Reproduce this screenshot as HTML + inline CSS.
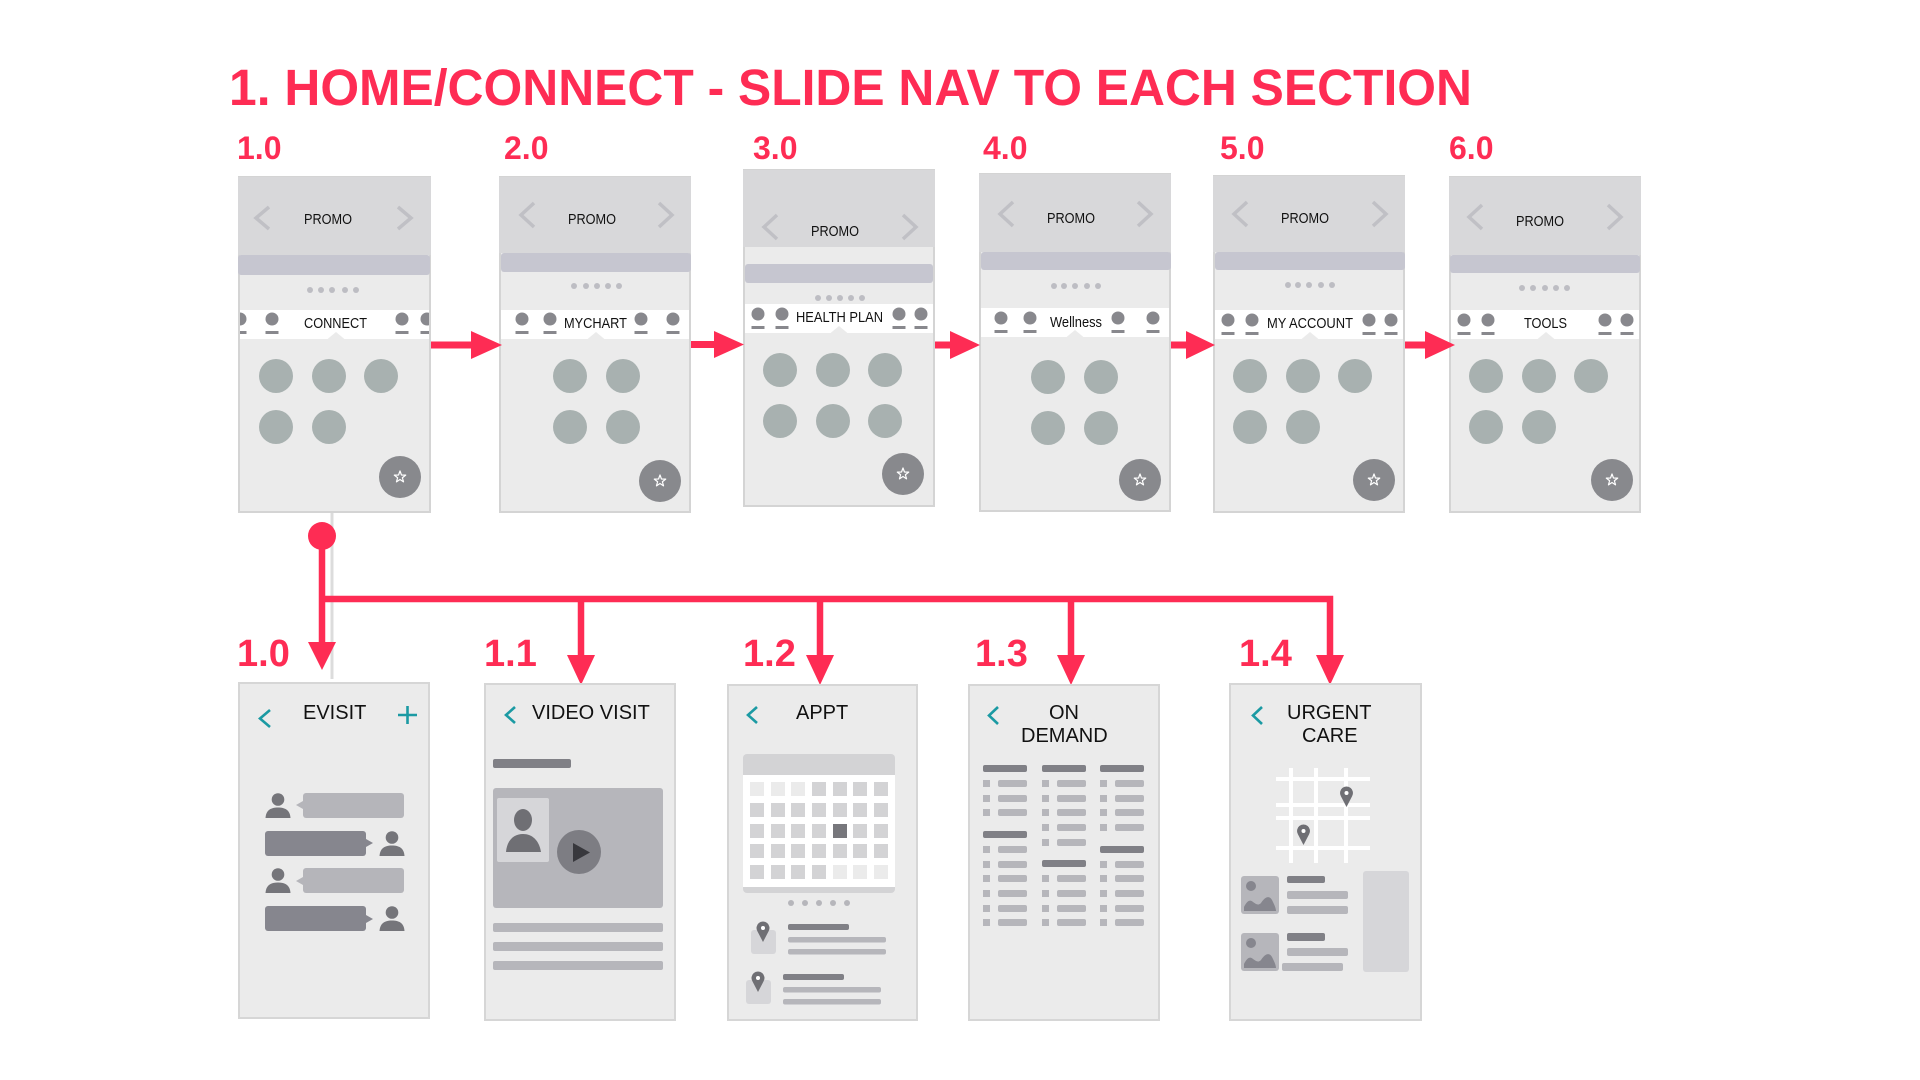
<!DOCTYPE html>
<html><head><meta charset="utf-8"><style>
html,body{margin:0;padding:0;background:#fff;}
svg{display:block;}
text{font-family:"Liberation Sans",Arial,sans-serif;}
</style></head><body>
<svg width="1920" height="1080" viewBox="0 0 1920 1080" xmlns="http://www.w3.org/2000/svg">
<defs>
<path id="star" d="M0,-6 L1.47,-2.02 L5.71,-1.85 L2.38,0.77 L3.53,4.85 L0,2.5 L-3.53,4.85 L-2.38,0.77 L-5.71,-1.85 L-1.47,-2.02 Z" fill="none" stroke="#fff" stroke-width="1.2" stroke-linejoin="round"/>
<g id="person" fill="#75757a"><circle cx="0" cy="6.5" r="6.3"/><path d="M-12.5,25 C-12,17 -7,14.5 0,14.5 C7,14.5 12,17 12.5,25 Z"/></g>
<g id="pin"><path d="M0,20 L-5.6,9.3 A6.5,6.5 0 1 1 5.6,9.3 Z" fill="#6f6f74"/><circle cx="0" cy="6" r="2" fill="#fff"/></g>
<g id="imgbox"><rect x="0" y="0" width="38" height="38" rx="3" fill="#b6b6bb"/><circle cx="10" cy="10" r="5" fill="#86868e"/><path d="M3,35 L3,31 C6,25 9,23 12,26 C15,28 17,30 20,27 C24,21 28,19 31,24 C33,28 35,32 35,35 Z" fill="#86868e"/></g>
<g id="tabicon" fill="#88888d"><circle cx="0" cy="0" r="6.5"/><rect x="-6.5" y="12" width="13" height="3"/></g>
<clipPath id="cl1"><rect x="240" y="300" width="189" height="50"/></clipPath>
<clipPath id="cl2"><rect x="501" y="300" width="188" height="50"/></clipPath>
<clipPath id="cl3"><rect x="745" y="295" width="188" height="50"/></clipPath>
<clipPath id="cl4"><rect x="981" y="300" width="188" height="50"/></clipPath>
<clipPath id="cl5"><rect x="1215" y="300" width="188" height="50"/></clipPath>
<clipPath id="cl6"><rect x="1451" y="300" width="188" height="50"/></clipPath>
</defs>

<!-- Title -->
<text x="229" y="105" font-size="51" font-weight="bold" fill="#fe2c54" textLength="1243" lengthAdjust="spacingAndGlyphs">1. HOME/CONNECT - SLIDE NAV TO EACH SECTION</text>

<!-- Top labels -->
<g font-size="32" font-weight="bold" fill="#fe2c54">
<text x="237" y="159">1.0</text>
<text x="504" y="159">2.0</text>
<text x="753" y="159">3.0</text>
<text x="983" y="159">4.0</text>
<text x="1220" y="159">5.0</text>
<text x="1449" y="159">6.0</text>
</g>

<!-- ============ CARD 1 ============ -->
<rect x="239" y="177" width="191" height="335" fill="#ebebeb" stroke="#d4d4d4" stroke-width="2"/>
<rect x="238" y="177" width="193" height="78" fill="#d8d8da"/>
<rect x="238" y="255" width="192" height="20" rx="3" fill="#c6c6d0"/>
<g fill="#bdbdc3"><circle cx="310" cy="290" r="3"/><circle cx="321" cy="290" r="3"/><circle cx="332" cy="290" r="3"/><circle cx="345" cy="290" r="3"/><circle cx="356" cy="290" r="3"/></g>
<rect x="240" y="310" width="189" height="29" fill="#fff"/>
<polygon points="327,339.5 345,339.5 336,332" fill="#ebebeb"/>
<g clip-path="url(#cl1)"><use href="#tabicon" x="240" y="319"/><use href="#tabicon" x="272" y="319"/><use href="#tabicon" x="402" y="319"/><use href="#tabicon" x="427" y="319"/></g>
<text x="304" y="328" font-size="15" fill="#111" textLength="63" lengthAdjust="spacingAndGlyphs">CONNECT</text>
<text x="304" y="224" font-size="15" fill="#111" textLength="48" lengthAdjust="spacingAndGlyphs">PROMO</text>
<g fill="none" stroke="#c0c0c5" stroke-width="3.5"><polyline points="269,207 256,218 269,229"/><polyline points="398,207 411,218 398,229"/></g>
<g fill="#a8b1b0"><circle cx="276" cy="376" r="17"/><circle cx="329" cy="376" r="17"/><circle cx="381" cy="376" r="17"/><circle cx="276" cy="427" r="17"/><circle cx="329" cy="427" r="17"/></g>
<circle cx="400" cy="477" r="21" fill="#88898d"/><use href="#star" x="400" y="477"/>

<!-- ============ CARD 2 ============ -->
<rect x="500" y="177" width="190" height="335" fill="#ebebeb" stroke="#d4d4d4" stroke-width="2"/>
<rect x="499" y="177" width="192" height="76" fill="#d8d8da"/>
<rect x="501" y="253" width="190" height="19" rx="3" fill="#c6c6d0"/>
<g fill="#bdbdc3"><circle cx="574" cy="286" r="3"/><circle cx="586" cy="286" r="3"/><circle cx="597" cy="286" r="3"/><circle cx="608" cy="286" r="3"/><circle cx="619" cy="286" r="3"/></g>
<rect x="501" y="310" width="188" height="29" fill="#fff"/>
<polygon points="587,339.5 605,339.5 596,332" fill="#ebebeb"/>
<g clip-path="url(#cl2)"><use href="#tabicon" x="522" y="319"/><use href="#tabicon" x="550" y="319"/><use href="#tabicon" x="641" y="319"/><use href="#tabicon" x="673" y="319"/></g>
<text x="564" y="328" font-size="15" fill="#111" textLength="63" lengthAdjust="spacingAndGlyphs">MYCHART</text>
<text x="568" y="224" font-size="15" fill="#111" textLength="48" lengthAdjust="spacingAndGlyphs">PROMO</text>
<g fill="none" stroke="#c0c0c5" stroke-width="3.5"><polyline points="534,203 521,215 534,227"/><polyline points="659,203 672,215 659,227"/></g>
<g fill="#a8b1b0"><circle cx="570" cy="376" r="17"/><circle cx="623" cy="376" r="17"/><circle cx="570" cy="427" r="17"/><circle cx="623" cy="427" r="17"/></g>
<circle cx="660" cy="481" r="21" fill="#88898d"/><use href="#star" x="660" y="481"/>

<!-- ============ CARD 3 ============ -->
<rect x="744" y="170" width="190" height="336" fill="#ebebeb" stroke="#d4d4d4" stroke-width="2"/>
<rect x="743" y="170" width="192" height="77" fill="#d8d8da"/>
<rect x="745" y="264" width="188" height="19" rx="3" fill="#c6c6d0"/>
<g fill="#bdbdc3"><circle cx="818" cy="298" r="3"/><circle cx="829" cy="298" r="3"/><circle cx="840" cy="298" r="3"/><circle cx="851" cy="298" r="3"/><circle cx="862" cy="298" r="3"/></g>
<rect x="745" y="304" width="188" height="29" fill="#fff"/>
<polygon points="830,333.5 848,333.5 839,326" fill="#ebebeb"/>
<g clip-path="url(#cl3)"><use href="#tabicon" x="758" y="314"/><use href="#tabicon" x="782" y="314"/><use href="#tabicon" x="899" y="314"/><use href="#tabicon" x="921" y="314"/></g>
<text x="796" y="322" font-size="15" fill="#111" textLength="87" lengthAdjust="spacingAndGlyphs">HEALTH PLAN</text>
<text x="811" y="236" font-size="15" fill="#111" textLength="48" lengthAdjust="spacingAndGlyphs">PROMO</text>
<g fill="none" stroke="#c0c0c5" stroke-width="3.5"><polyline points="777,215 764,227 777,239"/><polyline points="903,215 916,227 903,239"/></g>
<g fill="#a8b1b0"><circle cx="780" cy="370" r="17"/><circle cx="833" cy="370" r="17"/><circle cx="885" cy="370" r="17"/><circle cx="780" cy="421" r="17"/><circle cx="833" cy="421" r="17"/><circle cx="885" cy="421" r="17"/></g>
<circle cx="903" cy="474" r="21" fill="#88898d"/><use href="#star" x="903" y="474"/>

<!-- ============ CARD 4 ============ -->
<rect x="980" y="174" width="190" height="337" fill="#ebebeb" stroke="#d4d4d4" stroke-width="2"/>
<rect x="979" y="174" width="192" height="78" fill="#d8d8da"/>
<rect x="981" y="252" width="190" height="18" rx="3" fill="#c6c6d0"/>
<g fill="#bdbdc3"><circle cx="1054" cy="286" r="3"/><circle cx="1064" cy="286" r="3"/><circle cx="1075" cy="286" r="3"/><circle cx="1087" cy="286" r="3"/><circle cx="1098" cy="286" r="3"/></g>
<rect x="981" y="308" width="188" height="29" fill="#fff"/>
<polygon points="1066,337.5 1084,337.5 1075,330" fill="#ebebeb"/>
<g clip-path="url(#cl4)"><use href="#tabicon" x="1001" y="318"/><use href="#tabicon" x="1030" y="318"/><use href="#tabicon" x="1118" y="318"/><use href="#tabicon" x="1153" y="318"/></g>
<text x="1050" y="327" font-size="15" fill="#111" textLength="52" lengthAdjust="spacingAndGlyphs">Wellness</text>
<text x="1047" y="223" font-size="15" fill="#111" textLength="48" lengthAdjust="spacingAndGlyphs">PROMO</text>
<g fill="none" stroke="#c0c0c5" stroke-width="3.5"><polyline points="1013,202 1000,214 1013,226"/><polyline points="1138,202 1151,214 1138,226"/></g>
<g fill="#a8b1b0"><circle cx="1048" cy="377" r="17"/><circle cx="1101" cy="377" r="17"/><circle cx="1048" cy="428" r="17"/><circle cx="1101" cy="428" r="17"/></g>
<circle cx="1140" cy="480" r="21" fill="#88898d"/><use href="#star" x="1140" y="480"/>

<!-- ============ CARD 5 ============ -->
<rect x="1214" y="176" width="190" height="336" fill="#ebebeb" stroke="#d4d4d4" stroke-width="2"/>
<rect x="1213" y="176" width="192" height="76" fill="#d8d8da"/>
<rect x="1215" y="252" width="190" height="18" rx="3" fill="#c6c6d0"/>
<g fill="#bdbdc3"><circle cx="1288" cy="285" r="3"/><circle cx="1298" cy="285" r="3"/><circle cx="1309" cy="285" r="3"/><circle cx="1321" cy="285" r="3"/><circle cx="1332" cy="285" r="3"/></g>
<rect x="1215" y="310" width="188" height="29" fill="#fff"/>
<polygon points="1301,339.5 1319,339.5 1310,332" fill="#ebebeb"/>
<g clip-path="url(#cl5)"><use href="#tabicon" x="1228" y="320"/><use href="#tabicon" x="1252" y="320"/><use href="#tabicon" x="1369" y="320"/><use href="#tabicon" x="1391" y="320"/></g>
<text x="1267" y="328" font-size="15" fill="#111" textLength="86" lengthAdjust="spacingAndGlyphs">MY ACCOUNT</text>
<text x="1281" y="223" font-size="15" fill="#111" textLength="48" lengthAdjust="spacingAndGlyphs">PROMO</text>
<g fill="none" stroke="#c0c0c5" stroke-width="3.5"><polyline points="1247,202 1234,214 1247,226"/><polyline points="1373,202 1386,214 1373,226"/></g>
<g fill="#a8b1b0"><circle cx="1250" cy="376" r="17"/><circle cx="1303" cy="376" r="17"/><circle cx="1355" cy="376" r="17"/><circle cx="1250" cy="427" r="17"/><circle cx="1303" cy="427" r="17"/></g>
<circle cx="1374" cy="480" r="21" fill="#88898d"/><use href="#star" x="1374" y="480"/>

<!-- ============ CARD 6 ============ -->
<rect x="1450" y="177" width="190" height="335" fill="#ebebeb" stroke="#d4d4d4" stroke-width="2"/>
<rect x="1449" y="177" width="192" height="78" fill="#d8d8da"/>
<rect x="1450" y="255" width="190" height="18" rx="3" fill="#c6c6d0"/>
<g fill="#bdbdc3"><circle cx="1522" cy="288" r="3"/><circle cx="1533" cy="288" r="3"/><circle cx="1545" cy="288" r="3"/><circle cx="1556" cy="288" r="3"/><circle cx="1567" cy="288" r="3"/></g>
<rect x="1451" y="310" width="188" height="29" fill="#fff"/>
<polygon points="1537,339.5 1555,339.5 1546,332" fill="#ebebeb"/>
<g clip-path="url(#cl6)"><use href="#tabicon" x="1464" y="320"/><use href="#tabicon" x="1488" y="320"/><use href="#tabicon" x="1605" y="320"/><use href="#tabicon" x="1627" y="320"/></g>
<text x="1524" y="328" font-size="15" fill="#111" textLength="43" lengthAdjust="spacingAndGlyphs">TOOLS</text>
<text x="1516" y="226" font-size="15" fill="#111" textLength="48" lengthAdjust="spacingAndGlyphs">PROMO</text>
<g fill="none" stroke="#c0c0c5" stroke-width="3.5"><polyline points="1482,205 1469,217 1482,229"/><polyline points="1608,205 1621,217 1608,229"/></g>
<g fill="#a8b1b0"><circle cx="1486" cy="376" r="17"/><circle cx="1539" cy="376" r="17"/><circle cx="1591" cy="376" r="17"/><circle cx="1486" cy="427" r="17"/><circle cx="1539" cy="427" r="17"/></g>
<circle cx="1612" cy="480" r="21" fill="#88898d"/><use href="#star" x="1612" y="480"/>

<!-- Top arrows -->
<g fill="#fe2c54">
<rect x="431" y="341.5" width="42" height="7"/><polygon points="471,331 502,345 471,359"/>
<rect x="691" y="341" width="25" height="7"/><polygon points="714,331 744,344.5 714,358"/>
<rect x="935" y="341.5" width="17" height="7"/><polygon points="950,331 980,345 950,359"/>
<rect x="1171" y="341.5" width="17" height="7"/><polygon points="1186,331 1215,345 1186,359"/>
<rect x="1405" y="341.5" width="22" height="7"/><polygon points="1425,331 1455,345 1425,359"/>
</g>

<!-- Bottom connectors -->
<line x1="332" y1="513" x2="332" y2="679" stroke="#dcdcdc" stroke-width="3"/>
<g stroke="#fe2c54" stroke-width="6.5" fill="none">
<line x1="322" y1="536" x2="322" y2="645"/>
<path d="M322,599 H1330 V658" stroke-linejoin="miter"/>
<line x1="581" y1="599" x2="581" y2="658"/>
<line x1="820" y1="599" x2="820" y2="658"/>
<line x1="1071" y1="599" x2="1071" y2="658"/>
</g>
<g fill="#fe2c54">
<circle cx="322" cy="536" r="14"/>
<polygon points="308,642 336,642 322,670"/>
<polygon points="567,655 595,655 581,685"/>
<polygon points="806,655 834,655 820,685"/>
<polygon points="1057,655 1085,655 1071,685"/>
<polygon points="1316,655 1344,655 1330,685"/>
</g>

<!-- Bottom labels -->
<g font-size="38" font-weight="bold" fill="#fe2c54">
<text x="237" y="666">1.0</text>
<text x="484" y="666">1.1</text>
<text x="743" y="666">1.2</text>
<text x="975" y="666">1.3</text>
<text x="1239" y="666">1.4</text>
</g>

<!-- ============ B0 EVISIT ============ -->
<rect x="239" y="683" width="190" height="335" fill="#ebebeb" stroke="#d6d6d6" stroke-width="2"/>
<polyline points="270,710 260,718.5 270,727" fill="none" stroke="#1b9aa3" stroke-width="2.6"/>
<g stroke="#1b9aa3" stroke-width="2.6"><line x1="398" y1="715" x2="417" y2="715"/><line x1="407.5" y1="706" x2="407.5" y2="724"/></g>
<text x="303" y="719" font-size="20" fill="#111">EVISIT</text>
<g fill="#b5b5ba">
<rect x="303" y="793" width="101" height="25" rx="3"/><polygon points="303,801 296,805 303,809"/>
<rect x="303" y="868" width="101" height="25" rx="3"/><polygon points="303,877 296,881 303,885"/>
</g>
<g fill="#86868e">
<rect x="265" y="831" width="101" height="25" rx="3"/><polygon points="366,839 373,843 366,847"/>
<rect x="265" y="906" width="101" height="25" rx="3"/><polygon points="366,915 373,919 366,923"/>
</g>
<use href="#person" x="278" y="793"/>
<use href="#person" x="392" y="831"/>
<use href="#person" x="278" y="868"/>
<use href="#person" x="392" y="906"/>

<!-- ============ B1 VIDEO VISIT ============ -->
<rect x="485" y="684" width="190" height="336" fill="#ebebeb" stroke="#d6d6d6" stroke-width="2"/>
<polyline points="515,707 506,715 515,723" fill="none" stroke="#1b9aa3" stroke-width="2.6"/>
<text x="532" y="719" font-size="20" fill="#111">VIDEO VISIT</text>
<rect x="493" y="759" width="78" height="9" rx="2" fill="#808086"/>
<rect x="493" y="788" width="170" height="120" rx="3" fill="#b6b6bb"/>
<rect x="497" y="798" width="52" height="64" rx="2" fill="#d6d6d9"/>
<g fill="#6f6f74"><ellipse cx="523" cy="820" rx="9" ry="11"/><path d="M506,852 C507,840 514,834 523,834 C532,834 539,840 541,852 Z"/></g>
<circle cx="579" cy="852" r="22" fill="#7d7d83"/>
<polygon points="573,843 590,852.5 573,862" fill="#38383d"/>
<g fill="#b6b6bb"><rect x="493" y="923" width="170" height="9" rx="2"/><rect x="493" y="942" width="170" height="9" rx="2"/><rect x="493" y="961" width="170" height="9" rx="2"/></g>

<!-- ============ B2 APPT ============ -->
<rect x="728" y="685" width="189" height="335" fill="#ebebeb" stroke="#d6d6d6" stroke-width="2"/>
<polyline points="757,707 748,715 757,723" fill="none" stroke="#1b9aa3" stroke-width="2.6"/>
<text x="796" y="719" font-size="20" fill="#111">APPT</text>
<rect x="743" y="754" width="152" height="139" rx="4" fill="#d3d3d5"/>
<rect x="743" y="775" width="152" height="112" fill="#fff"/>
<g fill="#d3d3d5">
<rect x="750" y="782" width="14" height="14" fill="#ebebeb"/><rect x="771" y="782" width="14" height="14" fill="#ebebeb"/><rect x="791" y="782" width="14" height="14" fill="#ebebeb"/><rect x="812" y="782" width="14" height="14"/><rect x="833" y="782" width="14" height="14"/><rect x="853" y="782" width="14" height="14"/><rect x="874" y="782" width="14" height="14"/>
<rect x="750" y="803" width="14" height="14"/><rect x="771" y="803" width="14" height="14"/><rect x="791" y="803" width="14" height="14"/><rect x="812" y="803" width="14" height="14"/><rect x="833" y="803" width="14" height="14"/><rect x="853" y="803" width="14" height="14"/><rect x="874" y="803" width="14" height="14"/>
<rect x="750" y="824" width="14" height="14"/><rect x="771" y="824" width="14" height="14"/><rect x="791" y="824" width="14" height="14"/><rect x="812" y="824" width="14" height="14"/><rect x="833" y="824" width="14" height="14" fill="#77777c"/><rect x="853" y="824" width="14" height="14"/><rect x="874" y="824" width="14" height="14"/>
<rect x="750" y="844" width="14" height="14"/><rect x="771" y="844" width="14" height="14"/><rect x="791" y="844" width="14" height="14"/><rect x="812" y="844" width="14" height="14"/><rect x="833" y="844" width="14" height="14"/><rect x="853" y="844" width="14" height="14"/><rect x="874" y="844" width="14" height="14"/>
<rect x="750" y="865" width="14" height="14"/><rect x="771" y="865" width="14" height="14"/><rect x="791" y="865" width="14" height="14"/><rect x="812" y="865" width="14" height="14"/><rect x="833" y="865" width="14" height="14" fill="#ebebeb"/><rect x="853" y="865" width="14" height="14" fill="#ebebeb"/><rect x="874" y="865" width="14" height="14" fill="#ebebeb"/>
</g>
<g fill="#b6b6bb"><circle cx="791" cy="903" r="3"/><circle cx="805" cy="903" r="3"/><circle cx="819" cy="903" r="3"/><circle cx="833" cy="903" r="3"/><circle cx="847" cy="903" r="3"/></g>
<rect x="751" y="930" width="25" height="24" rx="3" fill="#d6d6d9"/>
<use href="#pin" x="763" y="922"/>
<rect x="788" y="924" width="61" height="6" rx="2" fill="#808086"/>
<rect x="788" y="937" width="98" height="5.5" rx="2" fill="#b6b6bb"/>
<rect x="788" y="949" width="98" height="5.5" rx="2" fill="#b6b6bb"/>
<rect x="746" y="980" width="25" height="24" rx="3" fill="#d6d6d9"/>
<use href="#pin" x="758" y="972"/>
<rect x="783" y="974" width="61" height="6" rx="2" fill="#808086"/>
<rect x="783" y="987" width="98" height="5.5" rx="2" fill="#b6b6bb"/>
<rect x="783" y="999" width="98" height="5.5" rx="2" fill="#b6b6bb"/>

<!-- ============ B3 ON DEMAND ============ -->
<rect x="969" y="685" width="190" height="335" fill="#ebebeb" stroke="#d6d6d6" stroke-width="2"/>
<polyline points="998,707 989,715.5 998,724" fill="none" stroke="#1b9aa3" stroke-width="2.6"/>
<text x="1049" y="719" font-size="20" fill="#111">ON</text>
<text x="1021" y="742" font-size="20" fill="#111">DEMAND</text>
<g fill="#808086">
<rect x="983" y="765" width="44" height="7" rx="2"/><rect x="983" y="831" width="44" height="7" rx="2"/>
<rect x="1042" y="765" width="44" height="7" rx="2"/><rect x="1042" y="860" width="44" height="7" rx="2"/>
<rect x="1100" y="765" width="44" height="7" rx="2"/><rect x="1100" y="846" width="44" height="7" rx="2"/>
</g>
<g fill="#b6b6bb">
<!-- col1 -->
<rect x="983" y="780" width="7" height="7"/><rect x="998" y="780" width="29" height="7" rx="2"/>
<rect x="983" y="795" width="7" height="7"/><rect x="998" y="795" width="29" height="7" rx="2"/>
<rect x="983" y="809" width="7" height="7"/><rect x="998" y="809" width="29" height="7" rx="2"/>
<rect x="983" y="846" width="7" height="7"/><rect x="998" y="846" width="29" height="7" rx="2"/>
<rect x="983" y="861" width="7" height="7"/><rect x="998" y="861" width="29" height="7" rx="2"/>
<rect x="983" y="875" width="7" height="7"/><rect x="998" y="875" width="29" height="7" rx="2"/>
<rect x="983" y="890" width="7" height="7"/><rect x="998" y="890" width="29" height="7" rx="2"/>
<rect x="983" y="905" width="7" height="7"/><rect x="998" y="905" width="29" height="7" rx="2"/>
<rect x="983" y="919" width="7" height="7"/><rect x="998" y="919" width="29" height="7" rx="2"/>
<!-- col2 -->
<rect x="1042" y="780" width="7" height="7"/><rect x="1057" y="780" width="29" height="7" rx="2"/>
<rect x="1042" y="795" width="7" height="7"/><rect x="1057" y="795" width="29" height="7" rx="2"/>
<rect x="1042" y="809" width="7" height="7"/><rect x="1057" y="809" width="29" height="7" rx="2"/>
<rect x="1042" y="824" width="7" height="7"/><rect x="1057" y="824" width="29" height="7" rx="2"/>
<rect x="1042" y="839" width="7" height="7"/><rect x="1057" y="839" width="29" height="7" rx="2"/>
<rect x="1042" y="875" width="7" height="7"/><rect x="1057" y="875" width="29" height="7" rx="2"/>
<rect x="1042" y="890" width="7" height="7"/><rect x="1057" y="890" width="29" height="7" rx="2"/>
<rect x="1042" y="905" width="7" height="7"/><rect x="1057" y="905" width="29" height="7" rx="2"/>
<rect x="1042" y="919" width="7" height="7"/><rect x="1057" y="919" width="29" height="7" rx="2"/>
<!-- col3 -->
<rect x="1100" y="780" width="7" height="7"/><rect x="1115" y="780" width="29" height="7" rx="2"/>
<rect x="1100" y="795" width="7" height="7"/><rect x="1115" y="795" width="29" height="7" rx="2"/>
<rect x="1100" y="809" width="7" height="7"/><rect x="1115" y="809" width="29" height="7" rx="2"/>
<rect x="1100" y="824" width="7" height="7"/><rect x="1115" y="824" width="29" height="7" rx="2"/>
<rect x="1100" y="861" width="7" height="7"/><rect x="1115" y="861" width="29" height="7" rx="2"/>
<rect x="1100" y="875" width="7" height="7"/><rect x="1115" y="875" width="29" height="7" rx="2"/>
<rect x="1100" y="890" width="7" height="7"/><rect x="1115" y="890" width="29" height="7" rx="2"/>
<rect x="1100" y="905" width="7" height="7"/><rect x="1115" y="905" width="29" height="7" rx="2"/>
<rect x="1100" y="919" width="7" height="7"/><rect x="1115" y="919" width="29" height="7" rx="2"/>
</g>

<!-- ============ B4 URGENT CARE ============ -->
<rect x="1230" y="684" width="191" height="336" fill="#ebebeb" stroke="#d6d6d6" stroke-width="2"/>
<polyline points="1262,707 1253,715.5 1262,724" fill="none" stroke="#1b9aa3" stroke-width="2.6"/>
<text x="1287" y="719" font-size="20" fill="#111">URGENT</text>
<text x="1302" y="742" font-size="20" fill="#111">CARE</text>
<g fill="#fff">
<rect x="1289" y="768" width="4" height="95"/><rect x="1314" y="768" width="4" height="95"/><rect x="1344" y="768" width="4" height="95"/>
<rect x="1276" y="777" width="94" height="4"/><rect x="1276" y="803" width="94" height="4"/><rect x="1276" y="816" width="94" height="4"/><rect x="1276" y="846" width="94" height="4"/>
</g>
<use href="#pin" x="1346.5" y="787"/>
<use href="#pin" x="1303.5" y="825"/>
<use href="#imgbox" x="1241" y="876"/>
<use href="#imgbox" x="1241" y="933"/>
<rect x="1287" y="876" width="38" height="7" rx="2" fill="#808086"/>
<rect x="1287" y="891" width="61" height="8" rx="2" fill="#b6b6bb"/>
<rect x="1287" y="906" width="61" height="8" rx="2" fill="#b6b6bb"/>
<rect x="1287" y="933" width="38" height="8" rx="2" fill="#808086"/>
<rect x="1287" y="948" width="61" height="8" rx="2" fill="#b6b6bb"/>
<rect x="1282" y="963" width="61" height="8" rx="2" fill="#b6b6bb"/>
<rect x="1363" y="871" width="46" height="101" rx="3" fill="#d6d6d9"/>
</svg>
</body></html>
